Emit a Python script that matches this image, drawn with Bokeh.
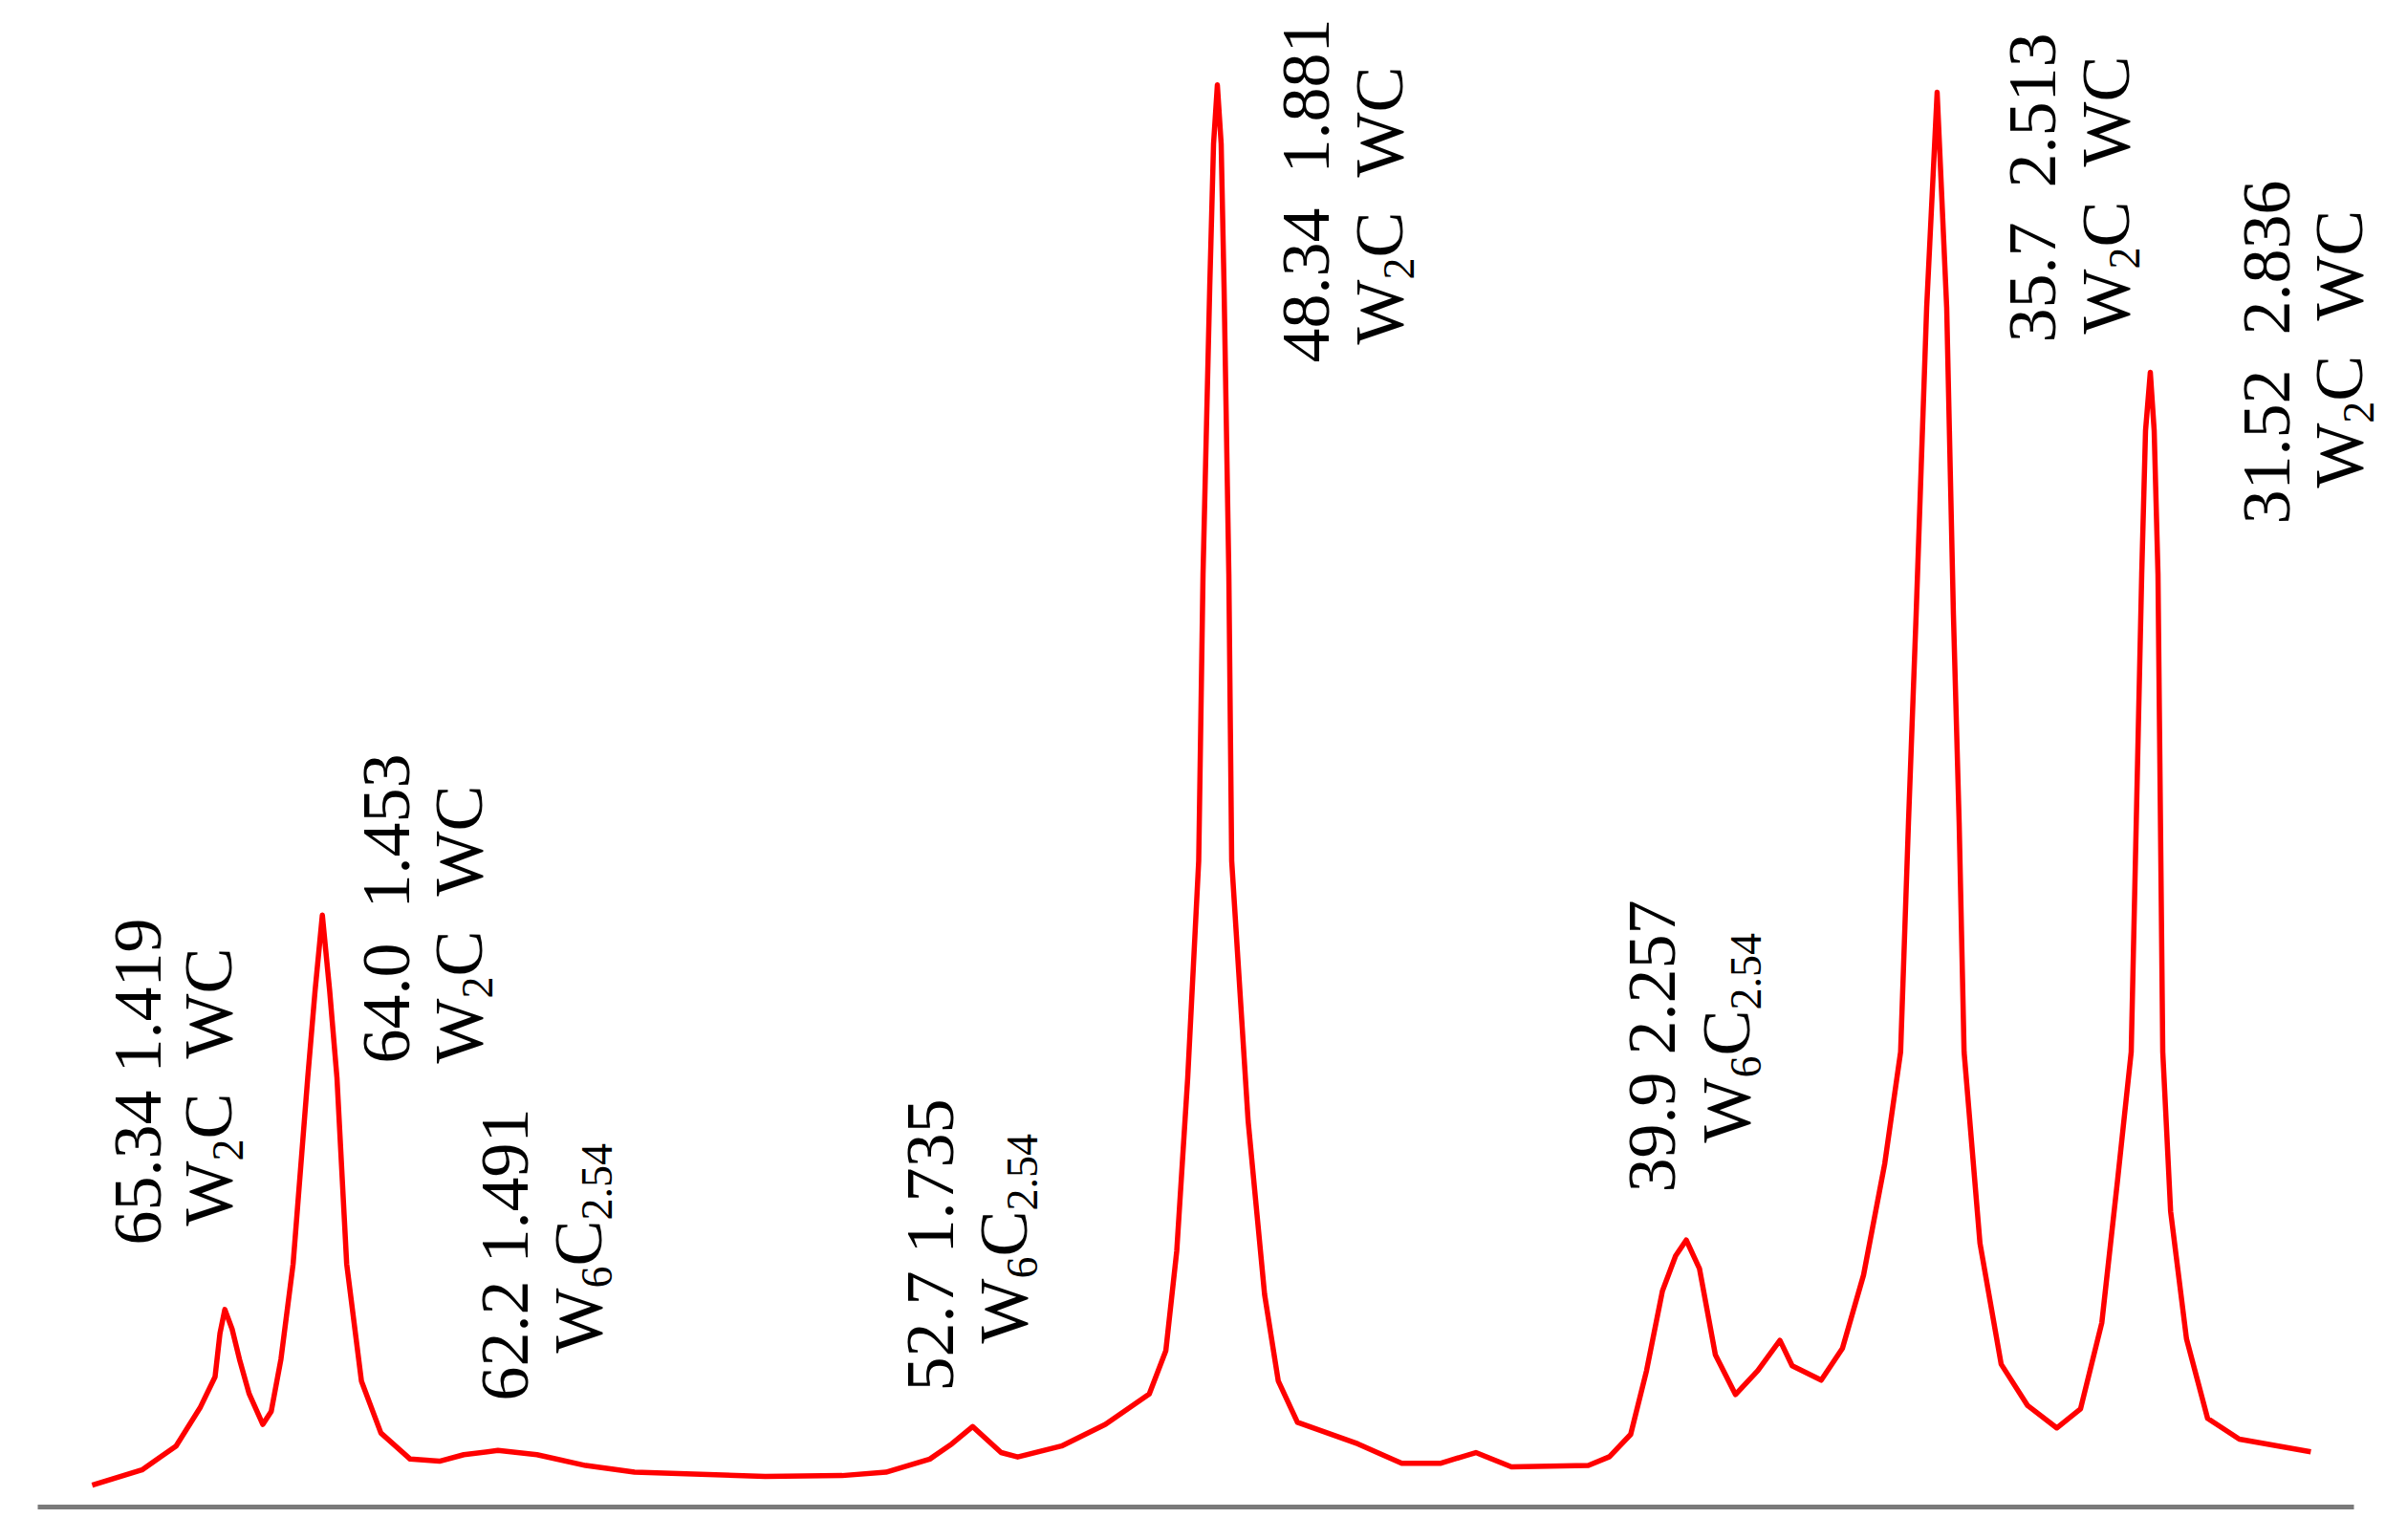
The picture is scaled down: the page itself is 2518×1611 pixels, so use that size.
import math
from bokeh.plotting import figure
from bokeh.models import ColumnDataSource, Range1d, LinearAxis, FixedTicker
from bokeh.core.properties import value
from bokeh.embed import file_html
from bokeh.resources import INLINE

# ---------------- data ----------------
# diffraction angle 2-theta (deg, axis runs right-to-left) and relative intensity (%)
two_theta = [
    67.696, 66.821, 66.221, 65.792, 65.535, 65.449, 65.363, 65.236, 65.106, 64.935,
    64.695, 64.548, 64.377, 64.163, 63.906, 63.777, 63.649, 63.520, 63.392, 63.221,
    62.962, 62.619, 62.105, 61.590, 61.162, 60.562, 59.876, 59.019, 58.160, 55.863,
    54.511, 53.740, 52.969, 52.582, 52.216, 51.715, 51.424, 50.653, 49.881, 49.110,
    48.819, 48.627, 48.434, 48.241, 48.165, 48.047, 47.980, 47.913, 47.846, 47.795,
    47.711, 47.661, 47.372, 47.083, 46.842, 46.505, 45.442, 44.671, 43.995, 43.368,
    42.742, 41.390, 41.019, 40.646, 40.367, 40.088, 39.856, 39.669, 39.436, 39.157,
    38.804, 38.412, 38.022, 37.807, 37.296, 36.923, 36.552, 36.179, 35.900, 35.762,
    35.627, 35.442, 35.258, 35.090, 34.972, 34.871, 34.784, 34.505, 34.132, 33.666,
    33.155, 32.737, 32.363, 32.084, 31.846, 31.661, 31.594, 31.510, 31.442, 31.375,
    31.291, 31.153, 30.874, 30.503, 29.945, 28.688,
]
intensity = [
    1.54, 2.61, 4.29, 7.03, 9.16, 12.21, 13.89, 12.52, 10.39, 7.95,
    5.81, 6.72, 10.39, 17.09, 30.19, 36.29, 41.63, 36.29, 30.19, 17.09,
    8.86, 5.20, 3.37, 3.22, 3.68, 3.98, 3.68, 2.92, 2.45, 2.15,
    2.21, 2.45, 3.37, 4.44, 5.66, 3.83, 3.52, 4.29, 5.81, 7.95,
    10.99, 18.00, 30.19, 45.44, 65.60, 85.77, 95.85, 100.00, 95.85, 85.77,
    65.60, 45.44, 27.15, 14.96, 8.86, 5.96, 4.44, 3.07, 3.07, 3.83,
    2.82, 2.92, 3.54, 5.11, 9.59, 15.19, 17.66, 18.77, 16.76, 10.71,
    7.91, 9.59, 11.72, 9.93, 8.92, 11.16, 16.31, 24.15, 32.00, 48.13,
    62.78, 84.36, 99.48, 84.36, 62.78, 48.13, 32.00, 18.55, 10.04, 7.13,
    5.56, 6.90, 12.95, 23.04, 32.00, 65.60, 75.69, 79.79, 75.69, 65.60,
    32.00, 20.79, 11.83, 6.23, 4.77, 3.88,
]

# peak annotations: 2-theta, d-spacing (A), phases
NB2 = "\u00a0\u00a0"  # two non-collapsing spaces
peak_angle = ["65.34", "64.0", "62.2", "52.7", "48.34", "39.9", "35.7", "31.52"]
peak_d = ["1.419", "1.453", "1.491", "1.735", "1.881", "2.257", "2.513", "2.836"]
phase_w = ["W", "W", "W", "W", "W", "W", "W", "W"]
phase_w_sub = ["2", "2", "6", "6", "2", "6", "2", "2"]
phase_rest = ["C" + NB2 + "WC", "C" + NB2 + "WC", "C", "C", "C" + NB2 + "WC", "C",
              "C" + NB2 + "WC", "C" + NB2 + "WC"]
phase_rest_sub = ["", "", "2.54", "2.54", "", "2.54", "", ""]

# ---------------- layout (annotation placement, styles) ----------------
sep = [" ", NB2, " ", " ", NB2, " ", NB2, NB2]
line1_xy = [(66.417, 18.42), (62.047, 31.19), (59.947, 7.46), (52.468, 8.13),
            (45.863, 80.46), (39.779, 22.11), (33.090, 81.87), (28.972, 69.10)]
line2_xy = [(65.157, 19.76), (60.770, 31.19), (58.669, 10.82), (51.190, 11.49),
            (44.569, 81.74), (38.468, 25.61), (31.812, 82.48), (27.695, 71.65)]

FONT = "Liberation Serif"
MAIN = 72
SUB = 46
SUB_SHIFT = 20
TEXT_DX = -29
ADV = {"W": 0.944, "C": 0.667, " ": 0.25, "\u00a0": 0.25, ".": 0.25}


def advance(s, size):
    return sum(ADV.get(ch, 0.5) for ch in s) * size


p = figure(width=2510, height=1600, output_backend="svg", toolbar_location=None,
           x_range=Range1d(69.308, 27.123), y_range=Range1d(0, 105.94),
           x_axis_location=None, y_axis_location=None,
           min_border_left=0, min_border_right=0, min_border_top=0, min_border_bottom=24,
           outline_line_color=None, background_fill_color="white",
           border_fill_color="white")
p.grid.visible = False

axis = LinearAxis(bounds=(27.93, 68.653), ticker=FixedTicker(ticks=[]),
                  axis_line_color="#7a7a7a", axis_line_width=5,
                  major_tick_line_color=None, minor_tick_line_color=None,
                  major_label_text_color=None)
p.add_layout(axis, "below")

p.line(two_theta, intensity, line_color="#ff0000", line_width=5.5, line_join="round")

# first line of every annotation
l1 = ColumnDataSource(dict(
    x=[xy[0] for xy in line1_xy], y=[xy[1] for xy in line1_xy],
    text=[a + s + d for a, s, d in zip(peak_angle, sep, peak_d)],
    xo=[TEXT_DX] * len(line1_xy)))

# second line: phase formulas with subscripts
main = dict(x=[], y=[], text=[], xo=[], yo=[])
sub = dict(x=[], y=[], text=[], xo=[], yo=[])
for i in range(len(peak_angle)):
    x0, y0 = line2_xy[i]
    off = 0.0
    for txt, is_sub in [(phase_w[i], False), (phase_w_sub[i], True),
                        (phase_rest[i], False), (phase_rest_sub[i], True)]:
        if not txt:
            continue
        tgt = sub if is_sub else main
        tgt["x"].append(x0)
        tgt["y"].append(y0)
        tgt["text"].append(txt)
        tgt["xo"].append(TEXT_DX + (SUB_SHIFT if is_sub else 0))
        tgt["yo"].append(-off)
        off += advance(txt, SUB if is_sub else MAIN)

common = dict(angle=math.pi / 2, text_font=value(FONT), text_color="black",
              text_align="left", text_baseline="alphabetic")
p.text(x="x", y="y", text="text", x_offset="xo", source=l1,
       text_font_size=value(f"{MAIN}px"), **common)
p.text(x="x", y="y", text="text", x_offset="xo", y_offset="yo",
       source=ColumnDataSource(main), text_font_size=value(f"{MAIN}px"), **common)
p.text(x="x", y="y", text="text", x_offset="xo", y_offset="yo",
       source=ColumnDataSource(sub), text_font_size=value(f"{SUB}px"), **common)

open("out.html", "w").write(file_html(p, INLINE))
